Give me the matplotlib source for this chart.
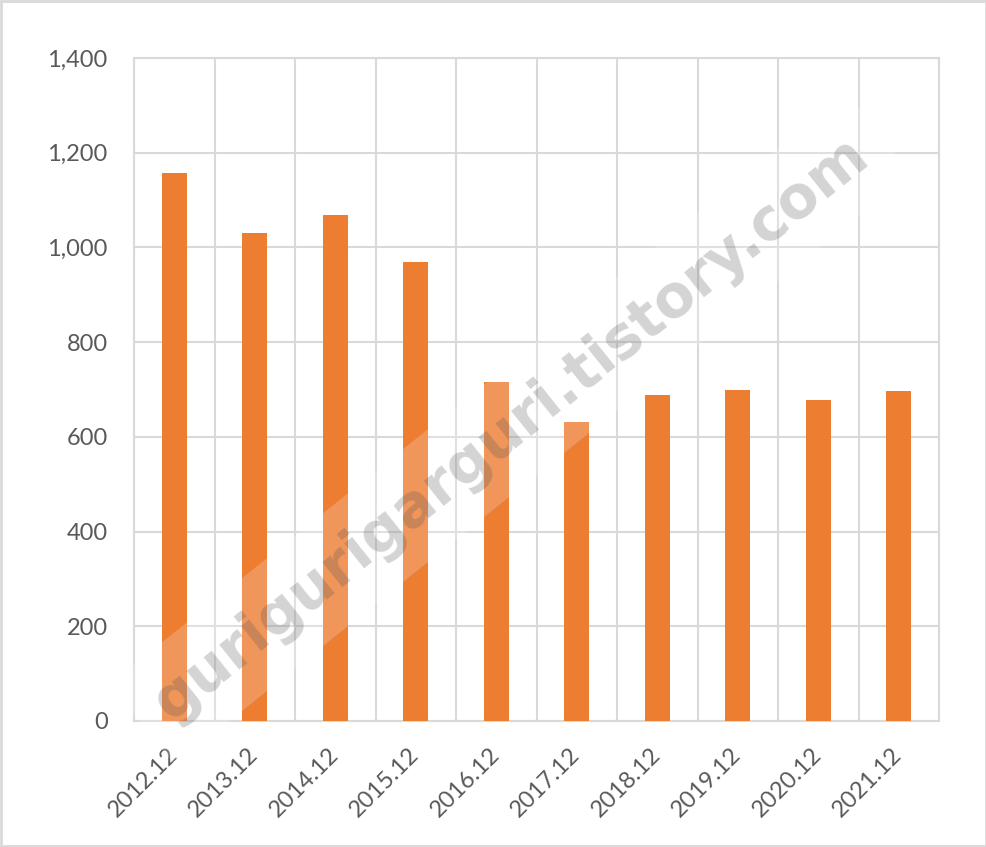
import matplotlib
matplotlib.use("Agg")
import matplotlib.pyplot as plt
from matplotlib.patches import Rectangle
import numpy as np

# data
periods = ["2012.12", "2013.12", "2014.12", "2015.12", "2016.12",
           "2017.12", "2018.12", "2019.12", "2020.12", "2021.12"]
values = [1157, 1030, 1068, 970, 716, 632, 689, 698, 678, 697]
y_ticks = [0, 200, 400, 600, 800, 1000, 1200, 1400]
watermark = "gurigurigarguri.tistory.com"

BAR = "#ED7D31"
GRID = "#D9D9D9"
TEXT = "#595959"

plt.rcParams["font.family"] = ["Lato", "DejaVu Sans"]

fig = plt.figure(figsize=(9.87, 8.47), dpi=100)
ax = fig.add_axes([0.1358, 0.1488, 0.9514 - 0.1358, 0.9315 - 0.1488])

x = np.arange(len(periods))
ax.bar(x, values, width=0.31, color=BAR, zorder=3)

ax.set_xlim(-0.5, len(periods) - 0.5)
ax.set_ylim(0, 1400)
ax.set_yticks(y_ticks)
ax.set_yticklabels([f"{v:,}" for v in y_ticks])
ax.set_xticks(x)
ax.set_xticklabels(periods, rotation=45, ha="right", va="center",
                   rotation_mode="anchor")
ax.set_xticks(np.arange(-0.5, len(periods)), minor=True)

ax.tick_params(axis="both", which="both", length=0, colors=TEXT, labelsize=17)
ax.tick_params(axis="y", pad=19)
ax.tick_params(axis="x", pad=22)

ax.grid(True, axis="y", color=GRID, linewidth=1.5, zorder=0)
ax.grid(True, axis="x", which="minor", color=GRID, linewidth=1.5, zorder=0)
ax.grid(False, axis="x", which="major")
for s in ax.spines.values():
    s.set_color(GRID)
    s.set_linewidth(1.5)
    s.set_zorder(1)

# watermark with translucent band
ax.text(0.468, 0.44, watermark, transform=ax.transAxes, rotation=38.7,
        rotation_mode="anchor", ha="center", va="center",
        fontsize=42, fontweight="bold", family="DejaVu Sans",
        color=(0.33, 0.33, 0.33, 0.25), zorder=5,
        bbox=dict(boxstyle="square,pad=0.4", facecolor=(1, 1, 1, 0.2),
                  edgecolor="none"))

# outer chart border
fig.patches.append(Rectangle((0.001, 0.001), 0.998, 0.998, transform=fig.transFigure,
                             fill=False, edgecolor=GRID, linewidth=2))

fig.savefig("out.png", dpi=100)
